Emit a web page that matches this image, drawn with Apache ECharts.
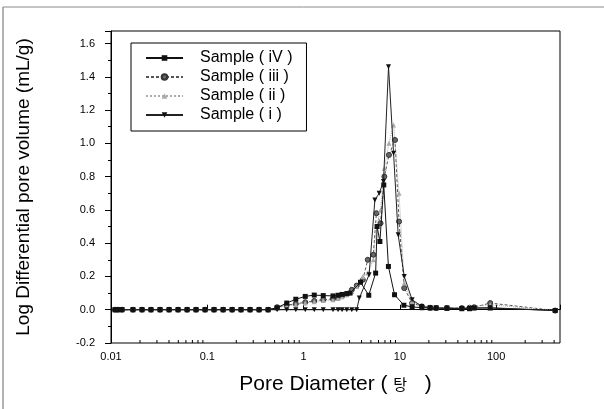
<!DOCTYPE html>
<html><head><meta charset="utf-8">
<script src="https://cdn.jsdelivr.net/npm/echarts@6/dist/echarts.min.js"></script>
<style>html,body{margin:0;padding:0;background:#fff}#c{width:604px;height:409px}</style>
</head><body><div id="c"></div><script>
// shared low-diameter region (all samples flat at 0)
const baseDiam = [0.011, 0.0118, 0.013, 0.0169, 0.021, 0.026, 0.0323, 0.0401, 0.0497, 0.0617, 0.0764, 0.0948, 0.1175, 0.146, 0.181, 0.224, 0.278, 0.345, 0.428];
const baseVal  = [0, 0, 0, 0, 0, 0, 0, 0, 0, 0, 0, 0, 0, 0, 0, 0, 0, 0, 0];
const tailDiam = [16.9, 20.6, 23.8, 30.8, 44, 52.8, 59, 86.7, 410];

const diamIV = [0.531, 0.668, 0.83, 1.04, 1.29, 1.6, 2.02, 2.28, 2.51, 2.81, 3.04, 3.9, 4.75, 5.6, 5.8, 6.2, 6.8, 7.6, 8.8, 11.0, 13.4];
const valIV  = [0.012, 0.04, 0.063, 0.08, 0.088, 0.085, 0.083, 0.087, 0.092, 0.097, 0.10, 0.165, 0.087, 0.22, 0.5, 0.41, 0.75, 0.26, 0.09, 0.027, 0.017];
const tailIV = [0.012, 0.01, 0.01, 0.008, 0.006, 0.006, 0.01, 0.01, -0.005];

const diamIII = [0.531, 0.668, 0.83, 1.04, 1.29, 1.6, 2.02, 2.28, 2.51, 2.81, 3.17, 3.56, 4.12, 4.64, 5.3, 5.7, 6.3, 6.9, 7.7, 8.9, 9.8, 11.1, 13.4];
const valIII  = [0.015, 0.028, 0.035, 0.045, 0.053, 0.06, 0.065, 0.072, 0.082, 0.093, 0.12, 0.145, 0.18, 0.30, 0.33, 0.58, 0.52, 0.8, 0.93, 1.02, 0.53, 0.13, 0.04];
const tailIII = [0.02, 0.012, 0.01, 0.01, 0.01, 0.012, 0.015, 0.04, -0.005];

const diamII = [0.531, 0.668, 0.83, 1.04, 1.29, 1.6, 2.02, 2.28, 2.51, 2.81, 3.17, 3.56, 4.12, 4.64, 5.3, 5.7, 6.3, 6.9, 7.7, 8.6, 9.8, 11.1, 13.4];
const valII  = [0.012, 0.022, 0.03, 0.04, 0.048, 0.055, 0.06, 0.068, 0.078, 0.09, 0.11, 0.14, 0.2, 0.22, 0.3, 0.5, 0.6, 0.85, 1.0, 1.11, 0.7, 0.16, 0.05];
const tailII = [0.025, 0.015, 0.012, 0.01, 0.01, 0.015, 0.02, 0.03, -0.005];

const diamI = [0.531, 0.668, 0.83, 1.04, 1.29, 1.6, 2.02, 2.28, 2.51, 2.81, 3.17, 3.56, 3.79, 4.79, 5.5, 6.1, 6.76, 7.62, 8.6, 9.6, 11.1, 13.4];
const valI  = [0, 0, 0, 0, 0, 0, 0, 0, 0, 0, 0, 0, 0.07, 0.21, 0.66, 0.70, 0.77, 1.46, 0.94, 0.45, 0.2, 0.06];
const tailI = [0.02, 0.012, 0.01, 0.01, 0.008, 0.008, 0.01, 0.012, -0.005];

const seriesNames = ['Sample ( iV )', 'Sample ( iii )', 'Sample ( ii )', 'Sample ( i )'];
const xTickLabels = {'-2': '0.01', '-1': '0.1', '0': '1', '1': '10', '2': '100'};
const yTickLabels = ['-0.2', '0.0', '0.2', '0.4', '0.6', '0.8', '1.0', '1.2', '1.4', '1.6'];
const minorTickDiam = [0.02,0.03,0.04,0.05,0.06,0.07,0.08,0.09, 0.2,0.3,0.4,0.5,0.6,0.7,0.8,0.9, 2,3,4,5,6,7,8,9, 20,30,40,50,60,70,80,90, 200,300,400];

function pairs(d1, v1, d2, v2, d3, v3) {
  const d = d1.concat(d2, d3), v = v1.concat(v2, v3);
  return d.map((x, i) => [x, v[i]]);
}

const FONT = 'Liberation Sans, Arial, sans-serif';
const chart = echarts.init(document.getElementById('c'), null, {renderer: 'canvas'});
chart.setOption({
  animation: false,
  backgroundColor: '#fff',
  grid: {left: 111, right: 44, top: 31, bottom: 66, show: true, borderColor: '#000', borderWidth: 1, backgroundColor: 'transparent'},
  legend: {
    data: seriesNames, orient: 'vertical', left: 131, top: 43,
    padding: [7, 14, 8, 14], itemWidth: 37, itemHeight: 7, itemGap: 3,
    borderColor: '#000', borderWidth: 1,
    textStyle: {fontFamily: FONT, fontSize: 16, color: '#000', padding: [0, 0, 0, 12]}
  },
  xAxis: {
    type: 'log', logBase: 10, min: 0.01, max: 460,
    name: 'Pore Diameter ( {k|탕}   )', nameLocation: 'middle', nameGap: 31,
    nameTextStyle: {fontFamily: FONT, fontSize: 21, color: '#000', rich: {k: {fontFamily: 'Noto Sans CJK KR', fontSize: 15, color: '#000'}}},
    axisLine: {lineStyle: {color: '#000', width: 1}},
    axisTick: {inside: true, length: 5, lineStyle: {color: '#000'}},
    minorTick: {show: false},
    splitLine: {show: false},
    axisLabel: {fontFamily: FONT, fontSize: 11, color: '#000', margin: 8,
      formatter: v => { const l = Math.log10(v); const r = Math.round(l); return Math.abs(l - r) < 1e-6 && xTickLabels[String(r)] !== undefined ? xTickLabels[String(r)] : ''; }}
  },
  yAxis: {
    type: 'value', min: -0.2, max: 1.675, interval: 0.2,
    name: 'Log Differential pore volume (mL/g)', nameLocation: 'middle', nameGap: 78,
    nameTextStyle: {fontFamily: FONT, fontSize: 19, color: '#000'},
    axisLine: {show: true, lineStyle: {color: '#000', width: 1}},
    axisTick: {show: true, inside: false, length: 6, lineStyle: {color: '#000'}},
    minorTick: {show: true, splitNumber: 2, length: 3, lineStyle: {color: '#000'}},
    splitLine: {show: false},
    axisLabel: {fontFamily: FONT, fontSize: 11, color: '#000', margin: 16,
      formatter: v => { const i = Math.round((v + 0.2) / 0.2); return (Math.abs(v - (-0.2 + i * 0.2)) < 1e-6 && yTickLabels[i]) ? yTickLabels[i] : ''; }}
  },
  graphic: [
    {type: 'line', shape: {x1: 3, y1: 7, x2: 3, y2: 409}, style: {stroke: '#666', lineWidth: 1}},
    {type: 'line', shape: {x1: 3, y1: 7, x2: 604, y2: 7}, style: {stroke: '#888', lineWidth: 1}}
  ],
  series: [
    {name: seriesNames[0], type: 'line', data: pairs(baseDiam, baseVal, diamIV, valIV, tailDiam, tailIV),
     symbol: 'rect', symbolSize: 5, showAllSymbol: true,
     lineStyle: {color: '#111', width: 1}, itemStyle: {color: '#111'}, z: 3},
    {name: seriesNames[1], type: 'line', data: pairs(baseDiam, baseVal, diamIII, valIII, tailDiam, tailIII),
     symbol: 'circle', symbolSize: 5, showAllSymbol: true,
     lineStyle: {color: '#555', width: 1, type: [3, 2]}, itemStyle: {color: '#666', borderColor: '#333', borderWidth: 1}, z: 2},
    {name: seriesNames[2], type: 'line', data: pairs(baseDiam, baseVal, diamII, valII, tailDiam, tailII),
     symbol: 'triangle', symbolSize: 5, showAllSymbol: true,
     lineStyle: {color: '#aaa', width: 1, type: 'dotted'}, itemStyle: {color: '#aaa'}, z: 2},
    {name: seriesNames[3], type: 'line', data: pairs(baseDiam, baseVal, diamI, valI, tailDiam, tailI),
     symbol: 'triangle', symbolRotate: 180, symbolSize: 5, showAllSymbol: true,
     lineStyle: {color: '#222', width: 1}, itemStyle: {color: '#111'}, z: 4},
    {type: 'custom', silent: true, clip: false, coordinateSystem: 'cartesian2d',
     data: minorTickDiam.map(d => [d, -0.2]), encode: {x: 0, y: 1},
     renderItem: (params, api) => {
       const p = api.coord([api.value(0), api.value(1)]);
       return {type: 'line', shape: {x1: p[0], y1: p[1], x2: p[0], y2: p[1] - 3}, style: {stroke: '#000', lineWidth: 1}};
     }}
  ]
});
</script></body></html>
